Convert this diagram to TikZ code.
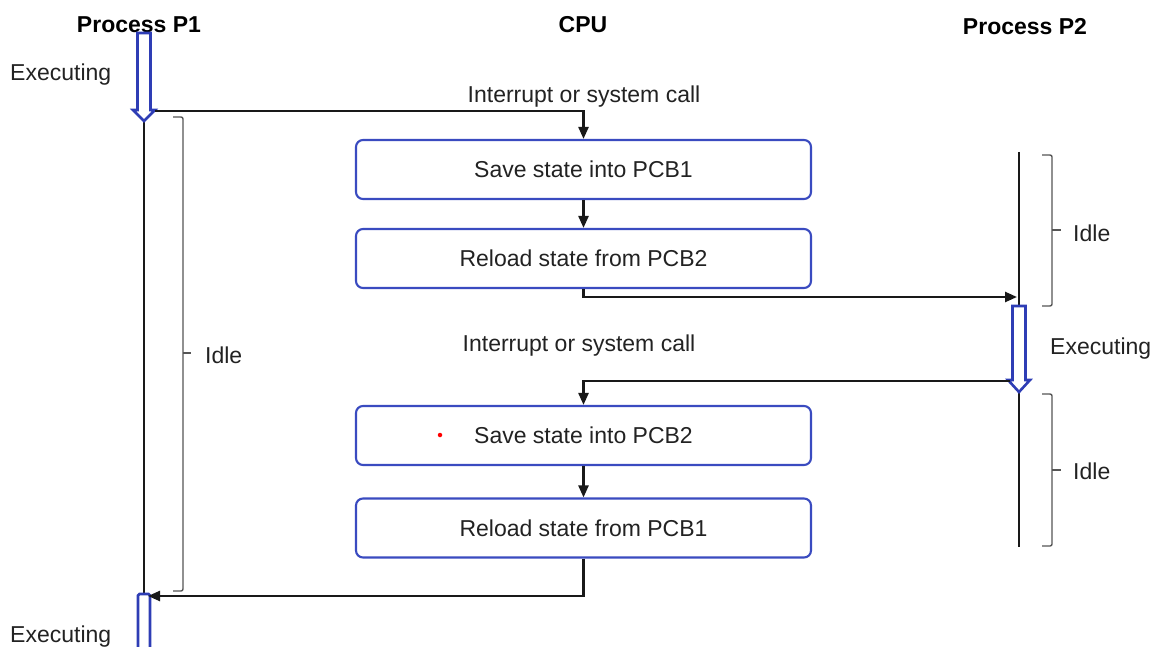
\documentclass[tikz,border=0pt]{standalone}
\usepackage{fontspec}
\setmainfont{Liberation Sans}
\usetikzlibrary{arrows.meta}
\definecolor{boxblue}{HTML}{3A4BC0}
\definecolor{arrblue}{HTML}{2E3DB5}
\definecolor{txt}{HTML}{222222}
\definecolor{brk}{HTML}{555555}
\begin{document}
\begin{tikzpicture}[x=1pt,y=-1pt,
  every node/.style={font=\fontsize{23}{27}\selectfont, text=txt, inner sep=0pt},
  title/.style={font=\fontsize{23}{27}\selectfont\bfseries, text=black},
  stepbox/.style={draw=boxblue, line width=2.1pt, rounded corners=7pt, minimum width=455pt, minimum height=59pt, fill=white},
  conn/.style={draw=black!90, line width=2.4pt},
  arr/.style={conn, -{Triangle[length=12pt,width=10pt]}},
  brace/.style={draw=brk, line width=1.4pt, rounded corners=2pt},
  hollow/.style={draw=arrblue, line width=2.6pt, fill=white, line join=miter}]
\useasboundingbox (0,0) rectangle (1159,647);

% titles
\node[title] (tp1) at (139,25) {Process P1};
\node[title] (tcpu) at (583,25) {CPU};
\node[title] (tp2) at (1025,27) {Process P2};

% timelines
\coordinate (p1a) at (144,120);
\coordinate (p1b) at (144,594);
\draw[conn] (p1a) -- (p1b);
\coordinate (p2a) at (1019,152);
\coordinate (p2b) at (1019,306);
\coordinate (p2c) at (1019,392);
\coordinate (p2d) at (1019,547);
\draw[conn] (p2a) -- (p2b);
\draw[conn] (p2c) -- (p2d);

% hollow arrows
\draw[hollow] (137.5,33) -- (150.5,33) -- (150.5,110) -- (155,110) -- (144,121) -- (133,110) -- (137.5,110) -- cycle;
\draw[hollow] (1012.5,306) -- (1025.5,306) -- (1025.5,380) -- (1030,380) -- (1019,392) -- (1008,380) -- (1012.5,380) -- cycle;
\draw[hollow, rounded corners=1.5pt] (138,660) -- (138,594) -- (150,594) -- (150,660);

% boxes
\node[stepbox] (b1) at (583.5,169.5) {Save state into PCB1};
\node[stepbox] (b2) at (583.5,258.5) {Reload state from PCB2};
\node[stepbox] (b3) at (583.5,435.5) {Save state into PCB2};
\node[stepbox] (b4) at (583.5,528) {Reload state from PCB1};
\node[circle, fill=red, minimum size=4.5pt] (dot) at (440,435) {};

% connectors
\coordinate (p1out) at (155,111);
\coordinate (p2in) at (1017,297);
\coordinate (p2out) at (1010,381);
\coordinate (p1in) at (148,596);
\draw[arr] (p1out) -| (b1.north);
\draw[arr] (b1) -- (b2);
\draw[arr] (b2.south) |- (p2in);
\draw[arr] (p2out) -| (b3.north);
\draw[arr] (b3) -- (b4);
\draw[arr] (b4.south) |- (p1in);

% labels
\node (int1) at (584,97) {Interrupt or system call};
\node (int2) at (579,346) {Interrupt or system call};
\node[anchor=west] (ex1) at (10,75) {Executing};
\node[anchor=west] (ex2) at (1050,349) {Executing};
\node[anchor=west] (ex3) at (10,637) {Executing};

% braces
\draw[brace] (173,117) -- (183,117) -- (183,591) -- (173,591);
\draw[brace] (183,353) -- (191,353);
\node[anchor=west] (idle1) at (205,355) {Idle};
\draw[brace] (1042,155) -- (1052,155) -- (1052,306) -- (1042,306);
\draw[brace] (1052,230) -- (1061,230);
\node[anchor=west] (idle2) at (1073,233) {Idle};
\draw[brace] (1042,394) -- (1052,394) -- (1052,546) -- (1042,546);
\draw[brace] (1052,470) -- (1061,470);
\node[anchor=west] (idle3) at (1073,471) {Idle};
\end{tikzpicture}
\end{document}
